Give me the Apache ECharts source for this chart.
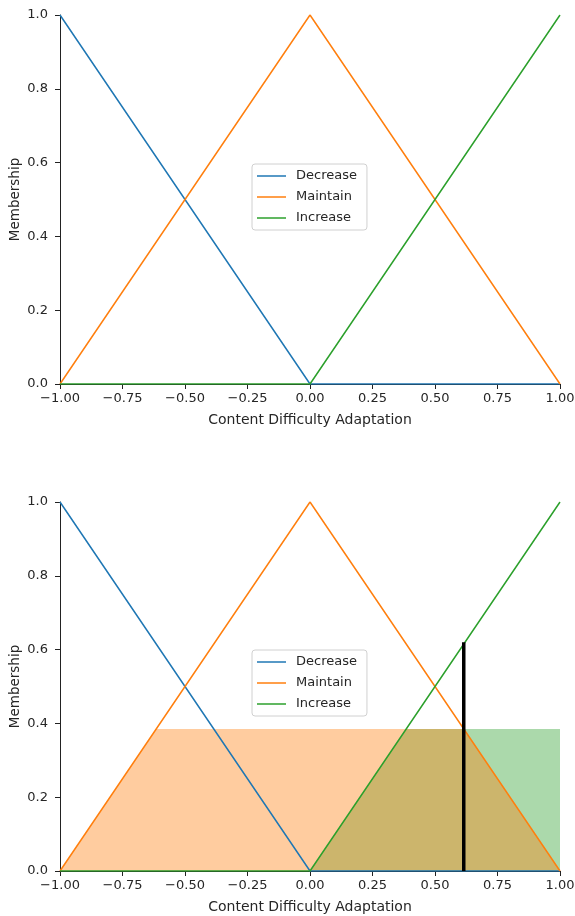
<!DOCTYPE html>
<html>
<head>
<meta charset="utf-8">
<script src="https://cdn.jsdelivr.net/npm/echarts@6/dist/echarts.min.js"></script>
<style>
  html, body { margin: 0; padding: 0; background: #fff; }
  #chart { width: 575px; height: 916px; }
</style>
</head>
<body>
<div id="chart"></div>
<script>
// universe and triangular memberships
const universe = [-1, 0, 1];
const decrease = [1, 0, 0];
const maintain = [0, 1, 0];
const increase = [0, 0, 1];

// clipped (activated) outputs in the lower panel
const maintainFillX = [-1, -0.615, 0.615, 1];
const maintainFillY = [0, 0.385, 0.385, 0];
const increaseFillX = [-1, 0, 0.385, 1];
const increaseFillY = [0, 0, 0.385, 0.385];

// defuzzified output
const crispX = 0.615;
const crispY = [0, 0.62];

const names = ['Decrease', 'Maintain', 'Increase'];
const colors = ['#1f77b4', '#ff7f0e', '#2ca02c'];

const zip = (xs, ys) => xs.map((x, i) => [x, ys[i]]);
const font = 'DejaVu Sans';
const textColor = '#262626';

const chart = echarts.init(document.getElementById('chart'));

function xAxisFor(gridIndex) {
    return {
        gridIndex: gridIndex,
        type: 'value',
        min: -1,
        max: 1,
        interval: 0.25,
        name: 'Content Difficulty Adaptation',
        nameLocation: 'middle',
        nameGap: 29,
        nameMoveOverlap: false,
        nameTextStyle: { fontFamily: font, fontSize: 14, color: textColor },
        axisLine: { show: true, onZero: false, lineStyle: { color: '#222', width: 1 } },
        axisTick: { show: true, length: 5, lineStyle: { color: '#222' } },
        axisLabel: {
            fontFamily: font, fontSize: 13, color: textColor, margin: 8,
            formatter: (v) => v.toFixed(2).replace('-', '\u2212'),
        },
        splitLine: { show: false },
    };
}

function yAxisFor(gridIndex) {
    return {
        gridIndex: gridIndex,
        type: 'value',
        min: 0,
        max: 1,
        interval: 0.2,
        name: 'Membership',
        nameLocation: 'middle',
        nameGap: 38,
        nameMoveOverlap: false,
        nameTextStyle: { fontFamily: font, fontSize: 13.5, color: textColor },
        axisLine: { show: true, onZero: false, lineStyle: { color: '#222', width: 1 } },
        axisTick: { show: true, length: 5, lineStyle: { color: '#222' } },
        axisLabel: {
            fontFamily: font, fontSize: 13, color: textColor, margin: 12,
            formatter: (v) => v.toFixed(1),
        },
        splitLine: { show: false },
    };
}

function legendFor(top) {
    return {
        data: names,
        orient: 'vertical',
        left: 252,
        top: top,
        icon: 'rect',
        itemWidth: 29,
        itemHeight: 1.5,
        itemGap: 7,
        padding: [5, 10, 5, 5],
        backgroundColor: '#fff',
        borderColor: '#d0d0d0',
        borderWidth: 1,
        borderRadius: 3,
        selectedMode: false,
        textStyle: { fontFamily: font, fontSize: 13, color: textColor, lineHeight: 14, padding: [0, 0, 0, 5] },
    };
}

const memberships = [decrease, maintain, increase];
const series = [];

// fills for the lower panel (green first so orange lies on top)
series.push({
    name: 'Increase fill',
    type: 'line',
    xAxisIndex: 1, yAxisIndex: 1,
    data: zip(increaseFillX, increaseFillY),
    showSymbol: false,
    lineStyle: { width: 0 },
    areaStyle: { color: colors[2], opacity: 0.4, origin: 'start' },
    z: 1,
    silent: true,
});
series.push({
    name: 'Maintain fill',
    type: 'line',
    xAxisIndex: 1, yAxisIndex: 1,
    data: zip(maintainFillX, maintainFillY),
    showSymbol: false,
    lineStyle: { width: 0 },
    areaStyle: { color: colors[1], opacity: 0.4, origin: 'start' },
    z: 1,
    silent: true,
});

[0, 1].forEach((g) => {
    memberships.forEach((m, i) => {
        series.push({
            name: names[i],
            type: 'line',
            xAxisIndex: g, yAxisIndex: g,
            data: zip(universe, m),
            showSymbol: false,
            color: colors[i],
            lineStyle: { width: 1.5, color: colors[i] },
            z: 3,
            silent: true,
        });
    });
});

series.push({
    name: 'Crisp',
    type: 'line',
    xAxisIndex: 1, yAxisIndex: 1,
    data: crispY.map((y) => [crispX, y]),
    showSymbol: false,
    lineStyle: { width: 3.5, color: '#000' },
    z: 4,
    silent: true,
});

chart.setOption({
    animation: false,
    grid: [
        { left: 60, right: 15, top: 15, height: 369, outerBoundsMode: 'none', containLabel: false },
        { left: 60, right: 15, top: 502, height: 369, outerBoundsMode: 'none', containLabel: false },
    ],
    xAxis: [xAxisFor(0), xAxisFor(1)],
    yAxis: [yAxisFor(0), yAxisFor(1)],
    legend: [legendFor(164), legendFor(650)],
    series: series,
});
</script>
</body>
</html>
